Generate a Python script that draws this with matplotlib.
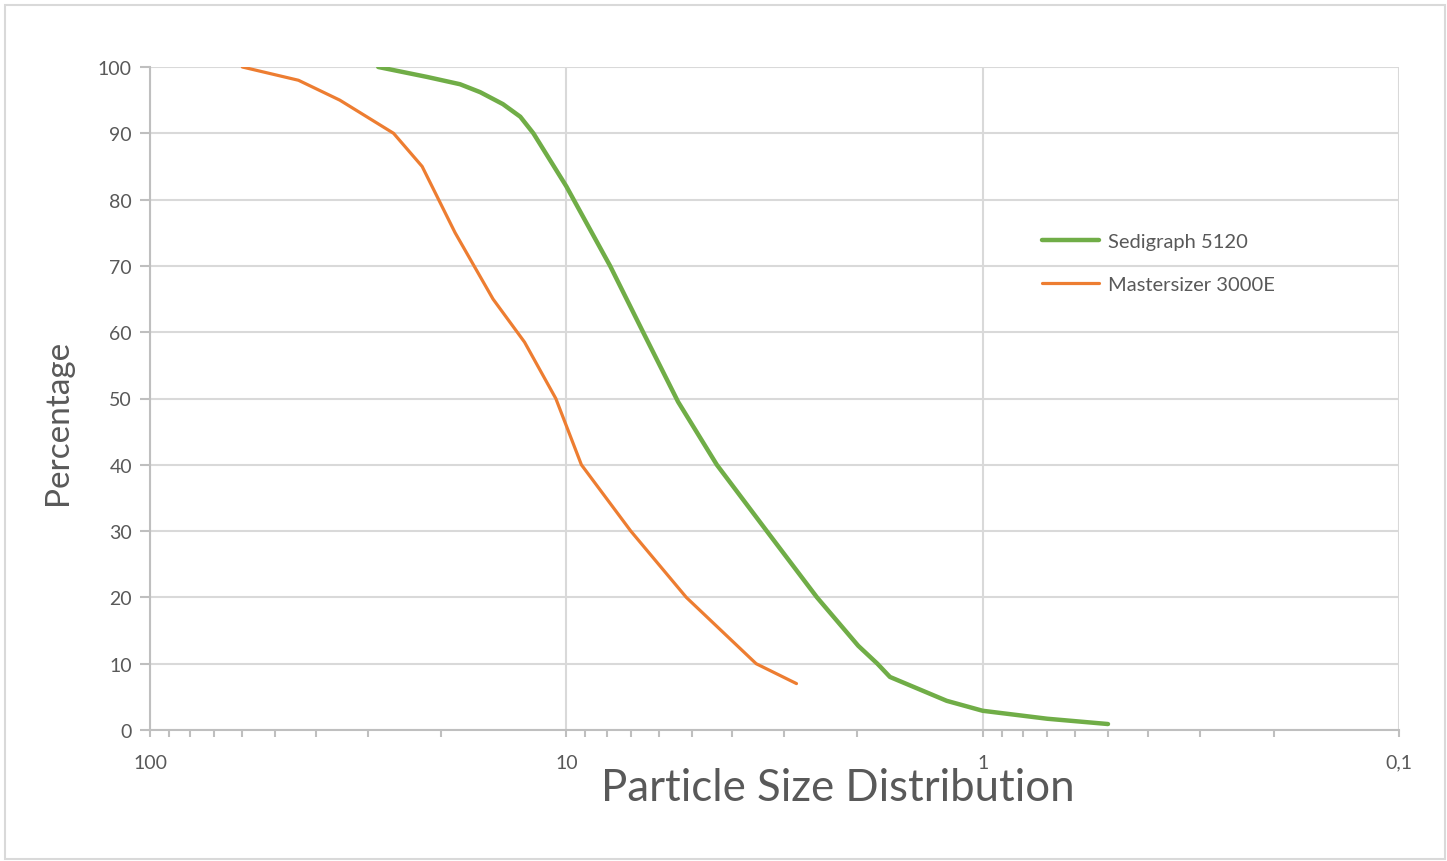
import numpy as np
import matplotlib
matplotlib.use("Agg")
import matplotlib.pyplot as plt
from matplotlib.ticker import FixedLocator, LogLocator, NullFormatter

# data (particle size in micron, cumulative %)
sedi_size = [28.3, 21.6, 18.0, 16.1, 14.2, 12.9, 12.0, 10.0, 7.85, 6.54, 5.39, 4.35,
             3.30, 2.50, 1.99, 1.79, 1.67, 1.22, 1.0, 0.70, 0.5]
sedi_pct = [100, 98.5, 97.4, 96.2, 94.4, 92.5, 90, 82, 70, 60, 49.5, 40,
            30, 20, 12.7, 10, 8, 4.4, 2.9, 1.7, 0.9]

master_size = [60, 44, 35, 26, 22.2, 18.5, 15.0, 12.6, 10.6, 9.2, 7.0, 5.15, 3.5, 2.8]
master_pct = [100, 98, 95, 90, 85, 75, 65, 58.5, 50, 40, 30, 20, 10, 7]

x_major = [100, 10, 1, 0.1]
x_labels = ["100", "10", "1", "0,1"]
y_ticks = list(range(0, 101, 10))

plt.rcParams['font.family'] = ['Lato', 'DejaVu Sans']
grey = "#595959"

W, H = 1447, 862
fig = plt.figure(figsize=(W / 100, H / 100), dpi=100)
fig.patches.append(plt.Rectangle((5 / W, 2 / H), 1440 / W, 854 / H,
                                 transform=fig.transFigure, fill=False,
                                 edgecolor="#d9d9d9", linewidth=1.5))

ax = fig.add_axes([150 / W, (H - 731) / H, 1249 / W, 663 / H])

ax.plot(sedi_size, sedi_pct, color="#70ad47", linewidth=3.2,
        solid_capstyle="round", solid_joinstyle="round", label="Sedigraph 5120")
ax.plot(master_size, master_pct, color="#ed7d31", linewidth=2.3,
        solid_capstyle="round", label="Mastersizer 3000E")

ax.set_xscale("log")
ax.set_xlim(100, 0.1)
ax.set_ylim(0, 100)

ax.xaxis.set_major_locator(FixedLocator(x_major))
ax.set_xticklabels(x_labels)
ax.xaxis.set_minor_locator(LogLocator(base=10, subs=np.arange(2, 10)))
ax.xaxis.set_minor_formatter(NullFormatter())
ax.set_yticks(y_ticks)

ax.grid(axis="y", color="#d9d9d9", linewidth=1.5)
ax.grid(axis="x", which="major", color="#d9d9d9", linewidth=1.5)
ax.set_axisbelow(True)

for s in ["top", "right"]:
    ax.spines[s].set_visible(False)
for s in ["left", "bottom"]:
    ax.spines[s].set_color("#bfbfbf")
    ax.spines[s].set_linewidth(1.5)

ax.tick_params(axis="x", which="both", direction="out", length=5, width=1.5,
               color="#bfbfbf", labelcolor=grey, labelsize=14, pad=12)
ax.tick_params(axis="y", direction="out", length=7, width=1.5,
               color="#bfbfbf", labelcolor=grey, labelsize=14, pad=6)

fig.text(58 / W, (H - 422) / H, "Percentage", fontsize=24, color=grey,
         rotation=90, ha="center", va="center")
fig.text(838 / W, (H - 789) / H, "Particle Size Distribution", fontsize=31.5,
         color=grey, ha="center", va="center")

ax.legend(loc="upper left", bbox_to_anchor=(874 / 1249, (731 - 216) / 663),
          frameon=False, fontsize=14.5, handlelength=2.8, handletextpad=0.45,
          labelspacing=1.3, labelcolor=grey)

fig.savefig("out.png", dpi=100)
